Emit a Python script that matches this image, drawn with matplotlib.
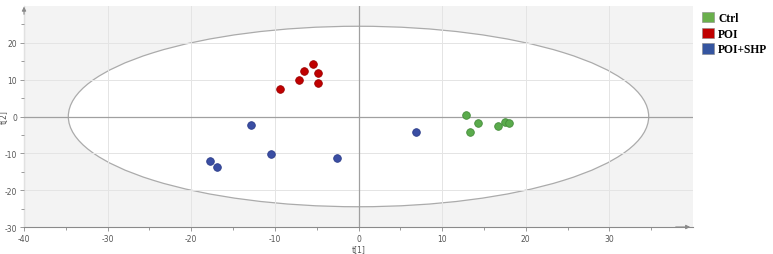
import matplotlib
matplotlib.use("Agg")
import matplotlib.pyplot as plt
from matplotlib.patches import Ellipse, Patch
import numpy as np

groups = ["Ctrl", "POI", "POI+SHP"]
ctrl_x = [12.8, 14.25, 13.3, 16.7, 17.5, 18.05]
ctrl_y = [0.35, -1.7, -4.1, -2.5, -1.6, -1.8]
poi_x = [-9.34, -7.1, -6.55, -5.4, -4.9, -4.9]
poi_y = [7.5, 9.9, 12.3, 14.2, 11.7, 9.2]
shp_x = [-12.85, -17.8, -16.97, -10.46, -2.6, 6.9]
shp_y = [-2.2, -12.0, -13.6, -10.05, -11.2, -4.1]
ellipse_a = 34.7
ellipse_b = 24.5

colors = ["#5aab4c", "#c00000", "#3a4ea3"]
edges = ["#448c3a", "#9c0000", "#2c3d8a"]

fig = plt.figure(figsize=(7.73, 2.55), dpi=100)
ax = fig.add_axes([24/773, 27/255, 669/773, 221/255])
ax.set_facecolor("#f3f3f3")
ax.set_xlim(-40, 40)
ax.set_ylim(-30, 30)

ell = Ellipse((0, 0), 2*ellipse_a, 2*ellipse_b, facecolor="white",
              edgecolor="#ababab", lw=0.9, zorder=0.5)
ax.add_patch(ell)

ax.set_axisbelow(False)
ax.set_xticks(np.arange(-40, 31, 10))
ax.set_yticks(np.arange(-30, 21, 10))
ax.set_xticks(np.arange(-35, 40, 5), minor=True)
ax.set_yticks(np.arange(-25, 30, 5), minor=True)
ax.grid(True, which="major", color="#e4e4e4", lw=0.7)
ax.axhline(0, color="#a0a0a0", lw=0.9, zorder=2.6)
ax.axvline(0, color="#a0a0a0", lw=0.9, zorder=2.6)

for xs, ys, c, e, lab in zip([ctrl_x, poi_x, shp_x], [ctrl_y, poi_y, shp_y], colors, edges, groups):
    ax.scatter(xs, ys, s=30, c=c, edgecolors=e, linewidths=0.6, zorder=3, label=lab)

for s in ["top", "right"]:
    ax.spines[s].set_visible(False)
for s in ["left", "bottom"]:
    ax.spines[s].set_color("#8a8a8a")
    ax.spines[s].set_linewidth(0.8)
ax.tick_params(which="both", colors="#8a8a8a", labelcolor="#555555", labelsize=5.5,
               direction="out", width=0.6)
ax.tick_params(which="major", length=3, pad=2)
ax.tick_params(which="minor", length=2)
ax.set_xticklabels([str(v) for v in range(-40, 31, 10)])
ax.set_yticklabels([str(v) for v in range(-30, 21, 10)])

# axis arrows
ax.annotate("", xy=(1.0, 0), xytext=(0.97, 0), xycoords="axes fraction",
            arrowprops=dict(arrowstyle="-|>", color="#8a8a8a", lw=0.8, mutation_scale=6),
            annotation_clip=False)
ax.annotate("", xy=(0, 1.01), xytext=(0, 0.95), xycoords="axes fraction",
            arrowprops=dict(arrowstyle="-|>", color="#8a8a8a", lw=0.8, mutation_scale=6),
            annotation_clip=False)

ax.set_xlabel("t[1]", fontsize=5.5, color="#555555", labelpad=1)
ax.set_ylabel("t[2]", fontsize=5.5, color="#555555")
ax.yaxis.set_label_coords(-0.024, 0.5)

handles = [Patch(facecolor=c, edgecolor="#888888", lw=0.4) for c in ["#6ab04c", "#c00000", "#3555a0"]]
fig.legend(handles, groups, loc="upper left", bbox_to_anchor=(694/773, 1 - 5/255),
           frameon=False, handlelength=1.0, handleheight=1.0, handletextpad=0.4,
           labelspacing=0.3, borderpad=0.2,
           prop=dict(family="Liberation Serif", weight="bold", size=8.3))

fig.savefig("out.png", dpi=100)
